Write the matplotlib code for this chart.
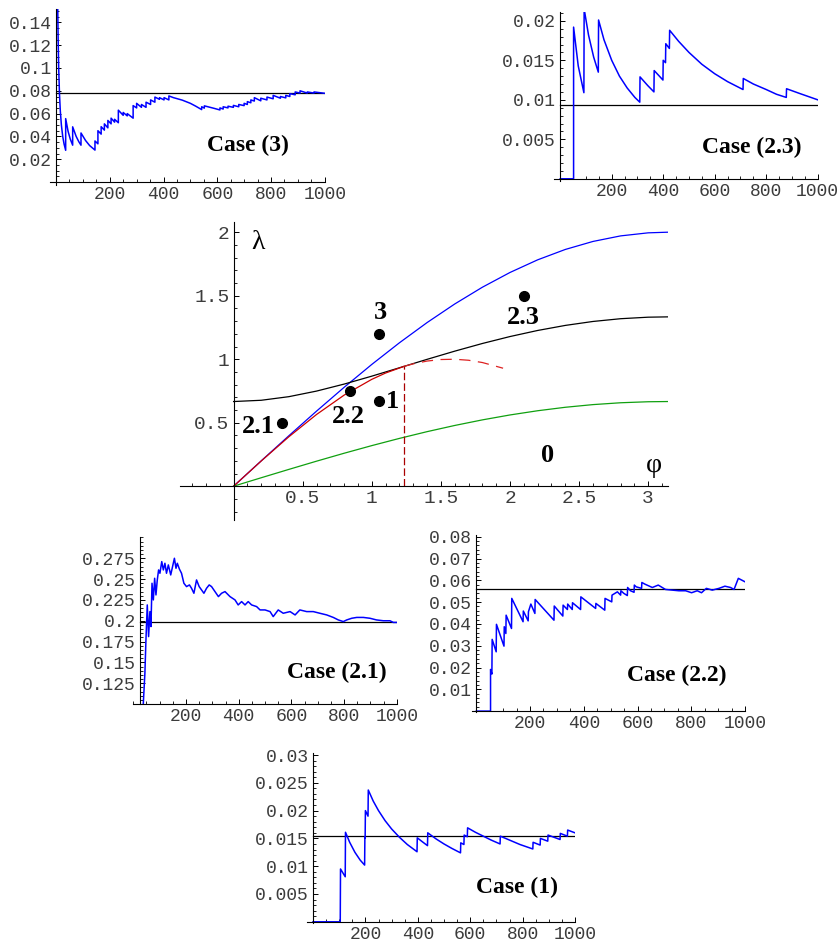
import numpy as np
import matplotlib
matplotlib.use('Agg')
import matplotlib.pyplot as plt
from matplotlib.ticker import MultipleLocator

W, H = 840, 943

# ---------------- central phase diagram ----------------
phi = [0, 0.2, 0.4, 0.6, 0.8, 1.0, 1.2, 1.4, 1.6, 1.8, 2.0, 2.2, 2.4, 2.6, 2.8, 3.0, 3.1416]
lam_blue = [0, 0.1997, 0.3973, 0.5910, 0.7788, 0.9589, 1.1293, 1.2884, 1.4347, 1.5667,
            1.6829, 1.7824, 1.8641, 1.9271, 1.9709, 1.9950, 2.0]
lam_black = [0.6667, 0.6766, 0.7050, 0.7489, 0.8041, 0.8665, 0.9325, 0.9989, 1.0633, 1.1237,
             1.1784, 1.2262, 1.2660, 1.2971, 1.3188, 1.3308, 1.3333]
lam_green = [0, 0.0666, 0.1324, 0.1970, 0.2596, 0.3196, 0.3764, 0.4295, 0.4782, 0.5222,
             0.5610, 0.5941, 0.6214, 0.6424, 0.6570, 0.6650, 0.6667]
phi_red = [0, 0.2, 0.4, 0.6, 0.8, 1.0, 1.1, 1.231]
lam_red = [0, 0.1987, 0.3894, 0.5646, 0.7174, 0.8415, 0.8912, 0.9428]
phi_red_dash = [1.231, 1.3, 1.4, 1.5, 1.6, 1.7, 1.8, 1.95]
lam_red_dash = [0.9428, 0.9636, 0.9854, 0.9975, 0.9996, 0.9917, 0.9738, 0.9290]
phi_crit = 1.231
lam_crit = 0.9428
pt_phi = [0.35, 0.84, 1.05, 1.05, 2.1]
pt_lam = [0.5, 0.75, 0.667, 1.2, 1.5]
pt_names = ['2.1', '2.2', '1', '3', '2.3']

# ---------------- running estimates, one per case ----------------
t_c3 = [6, 8, 10, 13, 16, 20, 25, 30, 36, 36, 45, 53, 62, 62, 75, 85, 93, 93, 110, 125,
        145, 145, 156, 156, 168, 168, 180, 180, 193, 193, 205, 205, 218, 218, 232, 232, 250, 250, 265, 265,
        287, 287, 300, 300, 318, 318, 335, 335, 352, 352, 368, 368, 385, 385, 402, 402, 420, 420, 437, 470,
        500, 520, 542, 542, 552, 552, 590, 610, 610, 622, 622, 640, 640, 660, 660, 680, 680, 700, 700, 712,
        712, 725, 725, 738, 738, 762, 762, 785, 785, 808, 808, 835, 835, 855, 855, 870, 870, 890, 890, 908,
        908, 935, 935, 960, 960, 1000]
r_c3 = [0.160, 0.125, 0.100, 0.077, 0.0625, 0.050, 0.040, 0.0333, 0.0278, 0.0556, 0.0444, 0.0377, 0.0323, 0.0484, 0.0400, 0.0353, 0.0323, 0.0430, 0.0364, 0.0320,
        0.0280, 0.0360, 0.0335, 0.0450, 0.0420, 0.0485, 0.0455, 0.0510, 0.0475, 0.0540, 0.0510, 0.0560, 0.0525, 0.0550, 0.0520, 0.0630, 0.0585, 0.0610, 0.0580, 0.0600,
        0.0560, 0.0670, 0.0650, 0.0690, 0.0655, 0.0680, 0.0655, 0.0700, 0.0680, 0.0720, 0.0700, 0.0745, 0.0725, 0.0740, 0.0720, 0.0740, 0.0720, 0.0755, 0.0740, 0.0718,
        0.0690, 0.0665, 0.0635, 0.0660, 0.0648, 0.0668, 0.0645, 0.0632, 0.0650, 0.0640, 0.0660, 0.0650, 0.0665, 0.0655, 0.0672, 0.0660, 0.0680, 0.0670, 0.0690, 0.0680,
        0.0705, 0.0695, 0.0720, 0.0710, 0.0740, 0.0712, 0.0735, 0.0720, 0.0745, 0.0730, 0.0760, 0.0735, 0.0750, 0.0738, 0.0760, 0.0750, 0.0775, 0.0765, 0.0790, 0.0780,
        0.0800, 0.0780, 0.0790, 0.0780, 0.0790, 0.0778]
ref_c3 = 0.078

t_c23 = [0, 52, 52, 70, 92, 93, 110, 130, 148, 149, 170, 200, 230, 260, 290, 309, 310, 340, 364, 365,
         385, 399, 400, 409, 410, 424, 425, 460, 500, 550, 600, 650, 710, 711, 750, 800, 840, 878, 879, 930,
         1000]
r_c23 = [0, 0, 0.0192, 0.0143, 0.0109, 0.0215, 0.0182, 0.0154, 0.0135, 0.0201, 0.0176, 0.0150, 0.0130, 0.0115, 0.0103, 0.0097, 0.0129, 0.0118, 0.0110, 0.0137,
         0.0130, 0.0125, 0.0150, 0.0147, 0.0171, 0.0165, 0.0188, 0.0174, 0.0160, 0.0145, 0.0133, 0.0123, 0.0113, 0.0127, 0.0120, 0.0113, 0.0107, 0.0103, 0.0114, 0.0108,
         0.0100]
ref_c23 = 0.0094

t_c21 = [35, 38, 44, 48, 53, 58, 63, 67, 71, 76, 81, 86, 91, 96, 101, 108, 114, 120, 126, 133,
         142, 149, 156, 162, 167, 175, 183, 192, 202, 213, 221, 230, 240, 250, 259, 268, 278, 288, 297, 310,
         323, 335, 348, 367, 386, 398, 411, 424, 436, 449, 468, 481, 500, 519, 531, 550, 569, 595, 614, 632,
         658, 683, 708, 734, 759, 778, 797, 810, 829, 848, 873, 898, 923, 949, 974, 987, 1000]
r_c21 = [0.090, 0.101, 0.137, 0.177, 0.219, 0.181, 0.211, 0.193, 0.245, 0.225, 0.251, 0.231, 0.249, 0.261, 0.257, 0.271, 0.261, 0.269, 0.257, 0.267,
         0.255, 0.265, 0.275, 0.263, 0.269, 0.262, 0.257, 0.245, 0.241, 0.243, 0.239, 0.233, 0.249, 0.241, 0.237, 0.233, 0.239, 0.243, 0.241, 0.235,
         0.229, 0.233, 0.235, 0.229, 0.225, 0.219, 0.223, 0.219, 0.223, 0.219, 0.217, 0.213, 0.213, 0.211, 0.205, 0.213, 0.209, 0.211, 0.207, 0.213,
         0.211, 0.211, 0.209, 0.207, 0.204, 0.201, 0.199, 0.201, 0.203, 0.204, 0.204, 0.203, 0.201, 0.200, 0.200, 0.198, 0.198]
ref_c21 = 0.198

t_c22 = [0, 53, 53, 58, 59, 74, 75, 103, 104, 110, 111, 131, 132, 174, 175, 193, 194, 203, 218, 219,
         289, 290, 322, 323, 339, 340, 357, 358, 388, 389, 444, 445, 478, 479, 504, 505, 525, 537, 538, 549,
         562, 563, 574, 587, 588, 595, 615, 616, 628, 655, 677, 704, 729, 754, 779, 801, 822, 838, 856, 878,
         903, 925, 946, 959, 975, 1000]
r_c22 = [0, 0, 0.0191, 0.0170, 0.0329, 0.0272, 0.0398, 0.0298, 0.0387, 0.0356, 0.0440, 0.0379, 0.0517, 0.0410, 0.0459, 0.0414, 0.0456, 0.0491, 0.0448, 0.0512,
         0.0417, 0.0482, 0.0436, 0.0486, 0.0466, 0.0491, 0.0466, 0.0497, 0.0466, 0.0524, 0.0471, 0.0494, 0.0463, 0.0517, 0.0501, 0.0532, 0.0547, 0.0532, 0.0552, 0.0540,
         0.0530, 0.0567, 0.0552, 0.0545, 0.0578, 0.0570, 0.0563, 0.0590, 0.0582, 0.0567, 0.0578, 0.0558, 0.0555, 0.0552, 0.0552, 0.0543, 0.0552, 0.0543, 0.0563, 0.0555,
         0.0563, 0.0573, 0.0567, 0.0558, 0.0609, 0.0593]
ref_c22 = 0.0561

t_c1 = [0, 104, 105, 123, 124, 140, 160, 180, 197, 198, 199, 200, 210, 211, 230, 250, 275, 300, 330, 360,
        397, 398, 420, 437, 438, 470, 500, 530, 563, 564, 576, 577, 589, 590, 620, 650, 680, 714, 715, 750,
        790, 839, 840, 867, 868, 896, 897, 920, 943, 944, 971, 972, 1000]
r_c1 = [0, 0, 0.0095, 0.0081, 0.0161, 0.0143, 0.0125, 0.0111, 0.0102, 0.0152, 0.0151, 0.0200, 0.0190, 0.0237, 0.0217, 0.0200, 0.0182, 0.0167, 0.0152, 0.0139,
        0.0126, 0.0151, 0.0143, 0.0137, 0.0160, 0.0149, 0.0140, 0.0132, 0.0124, 0.0142, 0.0139, 0.0156, 0.0153, 0.0169, 0.0161, 0.0154, 0.0147, 0.0140, 0.0154, 0.0147,
        0.0139, 0.0131, 0.0143, 0.0138, 0.0150, 0.0145, 0.0156, 0.0152, 0.0148, 0.0159, 0.0154, 0.0165, 0.0160]
ref_c1 = 0.0155

TICK_FONT = dict(family='Liberation Mono', color='#3c3c3c')
BOLD_SERIF = dict(family='Liberation Serif', weight='bold')

fig = plt.figure(figsize=(W / 100, H / 100), dpi=100)
fig.patch.set_facecolor('white')


def panel(x0, xs, y0, ys, xlim, ylim):
    """Axes placed so that data (0,0) sits at pixel (x0, y0) with xs/ys px per unit."""
    left = x0 + xlim[0] * xs
    right = x0 + xlim[1] * xs
    top = y0 - ylim[1] * ys
    bot = y0 - ylim[0] * ys
    ax = fig.add_axes([left / W, 1 - bot / H, (right - left) / W, (bot - top) / H])
    ax.set_xlim(xlim)
    ax.set_ylim(ylim)
    ax.patch.set_visible(False)
    return ax


def style(ax, xcross, ycross, xticks, xminor, yticks, yminor, fs=13):
    for s in ['top', 'right']:
        ax.spines[s].set_visible(False)
    ax.spines['left'].set_position(('data', xcross))
    ax.spines['bottom'].set_position(('data', ycross))
    for s in ['left', 'bottom']:
        ax.spines[s].set_linewidth(0.8)
    ax.set_xticks(xticks)
    ax.set_xticklabels([f'{v:g}' for v in xticks], fontsize=fs, **TICK_FONT)
    ax.set_yticks(yticks)
    ax.set_yticklabels([f'{v:g}' for v in yticks], fontsize=fs, **TICK_FONT)
    ax.xaxis.set_minor_locator(MultipleLocator(xminor))
    ax.yaxis.set_minor_locator(MultipleLocator(yminor))
    ax.tick_params(which='major', direction='in', length=3.8, width=0.7, pad=3)
    ax.tick_params(which='minor', direction='in', length=2, width=0.6)


def case_label(text, px, py):
    fig.text(px / W, 1 - py / H, text, ha='center', va='center', fontsize=17, **BOLD_SERIF)


def run_panel(ax, t, r, ref, x_ref0=0):
    ax.plot([x_ref0, 1000], [ref, ref], color='black', lw=0.9)
    ax.plot(t, r, color='#0000ff', lw=1.1)


xt = [200, 400, 600, 800, 1000]

# Case (3)
ax = panel(56, 0.26875, 182, 1140, (-22, 1000), (-0.003, 0.152))
style(ax, 0, 0, xt, 50, [0.02, 0.04, 0.06, 0.08, 0.1, 0.12, 0.14], 0.005)
run_panel(ax, t_c3, r_c3, ref_c3)
case_label('Case (3)', 248, 145)

# Case (2.3)
ax = panel(560.2, 0.2575, 178.8, 7900, (-25, 1000), (-0.0003, 0.0211))
style(ax, 0, 0, xt, 50, [0.005, 0.01, 0.015, 0.02], 0.001)
run_panel(ax, t_c23, r_c23, ref_c23)
case_label('Case (2.3)', 752, 147)

# Case (2.1)
ax = panel(133.3, 0.2635, 787.4, 833.2, (0, 1000), (0.1, 0.301))
style(ax, 25, 0.1, xt, 50, [0.125, 0.15, 0.175, 0.2, 0.225, 0.25, 0.275], 0.005)
run_panel(ax, t_c21, r_c21, ref_c21, x_ref0=25)
case_label('Case (2.1)', 337, 672)

# Case (2.2)
ax = panel(476.3, 0.26875, 711.1, 2180, (-17, 1000), (-0.0003, 0.0808))
style(ax, 0, 0, xt, 50, [0.01, 0.02, 0.03, 0.04, 0.05, 0.06, 0.07, 0.08], 0.002)
run_panel(ax, t_c22, r_c22, ref_c22)
case_label('Case (2.2)', 677, 675)

# Case (1)
ax = panel(313, 0.262, 921.8, 5560, (-23, 1000), (-0.0003, 0.0303))
style(ax, 0, 0, xt, 50, [0.005, 0.01, 0.015, 0.02, 0.025, 0.03], 0.001)
run_panel(ax, t_c1, r_c1, ref_c1)
case_label('Case (1)', 517, 887)

# central diagram
ax = panel(233.6, 138.2, 486.2, 127, (-0.388, 3.1416), (-0.27, 2.08))
style(ax, 0, 0, [0.5, 1, 1.5, 2, 2.5, 3], 0.1, [0.5, 1, 1.5, 2], 0.1, fs=14)
ax.plot(phi, lam_blue, color='#0000ff', lw=0.9)
ax.plot(phi, lam_black, color='black', lw=0.9)
ax.plot(phi, lam_green, color='#10a010', lw=0.9)
ax.plot(phi_red, lam_red, color='#cc0000', lw=0.9)
ax.plot(phi_red_dash, lam_red_dash, color='#dd2222', lw=0.9, dashes=(9, 6))
ax.plot([phi_crit, phi_crit], [0, lam_crit], color='#aa0000', lw=0.9, dashes=(6, 2.5))
ax.plot(pt_phi, pt_lam, 'o', color='black', ms=7)
offsets = [(-0.17, -0.03), (-0.01, -0.2), (0.1, 0.0), (0.015, 0.17), (-0.005, -0.17)]
for x, y, name, (dx, dy) in zip(pt_phi, pt_lam, pt_names, offsets):
    ax.text(x + dx, y + dy, name, ha='center', va='center', fontsize=19, **BOLD_SERIF)
ax.text(2.274, 0.244, '0', ha='center', va='center', fontsize=19, **BOLD_SERIF)
ax.text(3.04, 0.16, 'φ', ha='center', va='center', fontsize=20, family='Liberation Serif')
ax.text(0.18, 1.92, 'λ', ha='center', va='center', fontsize=20, family='Liberation Serif')

fig.savefig('out.png', dpi=100, facecolor='white')
